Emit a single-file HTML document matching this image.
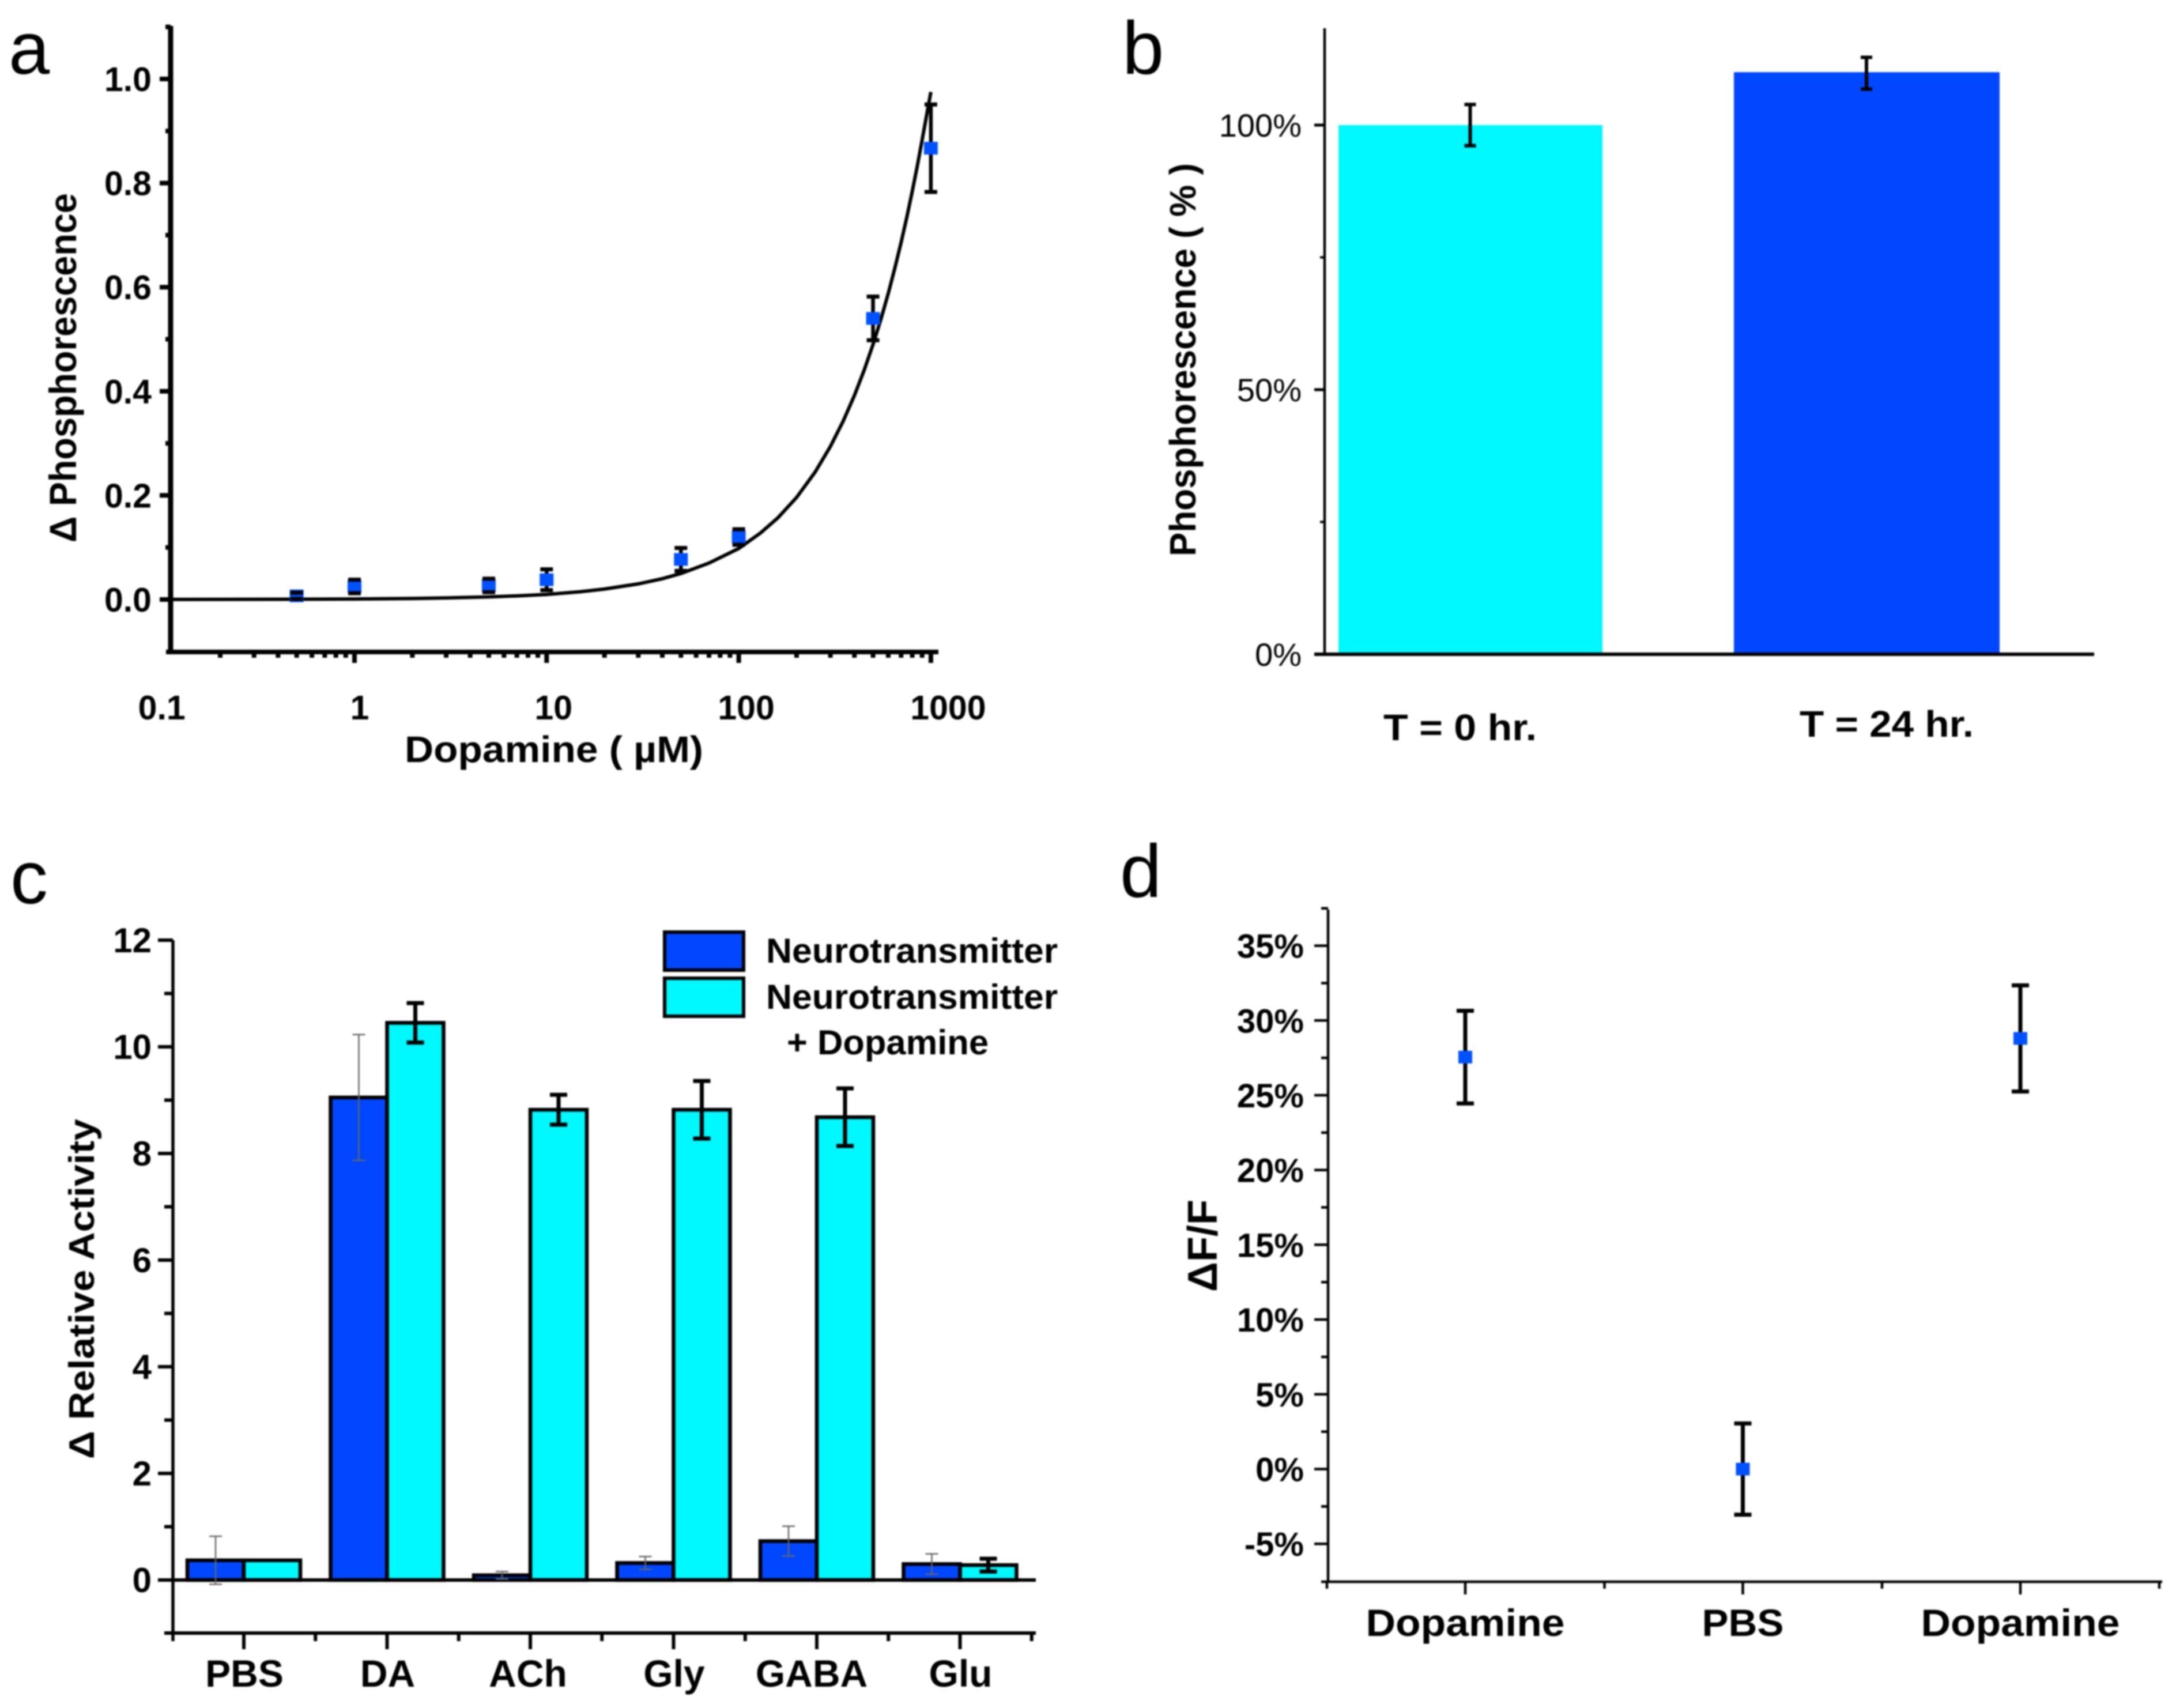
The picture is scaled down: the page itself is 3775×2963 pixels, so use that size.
<!DOCTYPE html>
<html lang="en">
<head>
<meta charset="utf-8">
<title>Dopamine sensor phosphorescence charts</title>
<style>
html,body{margin:0;padding:0;background:#fff;width:3775px;height:2963px;overflow:hidden}
svg{display:block;filter:blur(1.4px)}
text{font-family:"Liberation Sans","DejaVu Sans",sans-serif;fill:#000}
</style>
</head>
<body>
<svg id="figure" xmlns="http://www.w3.org/2000/svg" width="3775" height="2963" viewBox="0 0 3775 2963"></svg>
<script>
/* Panel a data */
const doseTicksA = [0.1, 1, 10, 100, 1000];
const doseTickLabelsA = ['0.1', '1', '10', '100', '1000'];
const responseTicksA = [0, 0.2, 0.4, 0.6, 0.8, 1.0];
const responseTickLabelsA = ['0.0', '0.2', '0.4', '0.6', '0.8', '1.0'];
const doseA = [0.5, 1, 5, 10, 50, 100, 500, 1000];
const responseA = [0.007, 0.025, 0.027, 0.038, 0.077, 0.12, 0.54, 0.867];
const errorA = [0.006, 0.013, 0.013, 0.02, 0.022, 0.015, 0.042, 0.084];
const curveDoseA = [0.11, 0.2, 0.5, 1, 2, 3, 5, 7, 10, 15, 20, 30, 40, 50, 70, 100, 130, 160, 200, 250, 300, 350, 400, 450, 500, 550, 600, 650, 700, 750, 800, 850, 900, 950, 1000];
const curveResponseA = [0.0001, 0.0002, 0.0005, 0.001, 0.002, 0.003, 0.005, 0.007, 0.0098, 0.015, 0.02, 0.03, 0.04, 0.05, 0.07, 0.098, 0.128, 0.157, 0.196, 0.245, 0.294, 0.343, 0.392, 0.441, 0.49, 0.539, 0.588, 0.637, 0.686, 0.735, 0.784, 0.833, 0.882, 0.93, 0.975];

/* Panel b data */
const categoriesB = ['T = 0 hr.', 'T = 24 hr.'];
const valuesB = [100, 110];
const errorsB = [3.9, 3];
const errorCentersB = [100, 109.8];
const percentTicksB = [0, 50, 100];
const percentTickLabelsB = ['0%', '50%', '100%'];

/* Panel c data */
const categoriesC = ['PBS', 'DA', 'ACh', 'Gly', 'GABA', 'Glu'];
const neurotransmitterC = [0.37, 9.05, 0.09, 0.32, 0.73, 0.3];
const neurotransmitterErrC = [0.45, 1.18, 0.07, 0.12, 0.28, 0.19];
const withDopamineC = [0.37, 10.45, 8.82, 8.82, 8.68, 0.28];
const withDopamineErrC = [0, 0.37, 0.28, 0.54, 0.54, 0.12];
const activityTicksC = [0, 2, 4, 6, 8, 10, 12];
const activityTickLabelsC = ['0', '2', '4', '6', '8', '10', '12'];

/* Panel d data */
const categoriesD = ['Dopamine', 'PBS', 'Dopamine'];
const valuesD = [27.55, 0, 28.8];
const errorsD = [3.1, 3.05, 3.55];
const percentTicksD = [-5, 0, 5, 10, 15, 20, 25, 30, 35];
const percentTickLabelsD = ['-5%', '0%', '5%', '10%', '15%', '20%', '25%', '30%', '35%'];

const NS = 'http://www.w3.org/2000/svg';
const root = document.getElementById('figure');
const BLUE = '#0047ff';
const CYAN = '#00f8ff';
const MARK = '#0052ff';

function group(parent, name) {
  const el = document.createElementNS(NS, 'g');
  
  
  parent.appendChild(el);
  return el;
}
function line(parent, name, x1, y1, x2, y2, w, color) {
  const el = document.createElementNS(NS, 'line');
  
  
  el.setAttribute('x1', x1);
  el.setAttribute('y1', y1);
  el.setAttribute('x2', x2);
  el.setAttribute('y2', y2);
  el.setAttribute('stroke', color || '#000');
  el.setAttribute('stroke-width', w);
  parent.appendChild(el);
  return el;
}
function box(parent, name, x, y, w, h, fill, sw) {
  const el = document.createElementNS(NS, 'rect');
  
  
  el.setAttribute('x', x);
  el.setAttribute('y', y);
  el.setAttribute('width', w);
  el.setAttribute('height', h);
  el.setAttribute('fill', fill);
  if (sw) {
    el.setAttribute('stroke', '#000');
    el.setAttribute('stroke-width', sw);
  }
  parent.appendChild(el);
  return el;
}
function label(parent, name, str, x, y, size, weight, anchor, len, rotate) {
  const el = document.createElementNS(NS, 'text');
  
  
  el.setAttribute('x', x);
  el.setAttribute('y', y);
  el.setAttribute('font-size', size);
  el.setAttribute('font-weight', weight);
  el.setAttribute('text-anchor', anchor);
  if (len) {
    el.setAttribute('textLength', len);
    el.setAttribute('lengthAdjust', 'spacingAndGlyphs');
  }
  if (rotate) {
    el.setAttribute('transform', 'rotate(-90 ' + x + ' ' + y + ')');
  }
  el.textContent = str;
  parent.appendChild(el);
  return el;
}
function errorBar(parent, name, x, yTop, yBottom, capW, w, color) {
  const g = group(parent, name);
  line(g, 'error-stem', x, yTop, x, yBottom, w, color);
  line(g, 'error-cap-top', x - capW / 2, yTop, x + capW / 2, yTop, w, color);
  line(g, 'error-cap-bottom', x - capW / 2, yBottom, x + capW / 2, yBottom, w, color);
}

/* ---------- Panel a ---------- */
(function () {
  const p = group(root, 'panel-a');
  const xS = v => 615 + 333.3 * Math.log10(v);
  const yS = v => 1040 - 903 * v;
  label(p, 'panel-label-a', 'a', 15, 128, 128, 'normal', 'start');
  const axisX = 296, axisY = 1131;
  line(p, 'y-axis', axisX, 45, axisX, axisY + 4, 9);
  line(p, 'x-axis', 288, axisY, 1628, axisY, 8);
  for (let i = 0; i < responseTicksA.length; i++) {
    const y = yS(responseTicksA[i]);
    line(p, 'y-major-tick', 277, y, axisX, y, 8);
    label(p, 'y-tick-label', responseTickLabelsA[i], 263, y + 21, 59, 'bold', 'end', 82);
    if (i < responseTicksA.length - 1) {
      const m = yS((responseTicksA[i] + responseTicksA[i + 1]) / 2);
      line(p, 'y-minor-tick', 287, m, axisX, m, 8);
    }
  }
  line(p, 'y-minor-tick', 287, yS(1.1), axisX, yS(1.1), 8);
  const nudge = [-1, 9, 12, 13, 30];
  for (let i = 0; i < doseTicksA.length; i++) {
    const v = doseTicksA[i];
    if (v > 0.1) line(p, 'x-major-tick', xS(v), axisY, xS(v), axisY + 19, 8);
    label(p, 'x-tick-label', doseTickLabelsA[i], xS(v) + nudge[i], 1248, 59, 'bold', 'middle');
    if (v < 1000) {
      for (let k = 2; k < 10; k++) {
        const mx = xS(v * k);
        if (mx > axisX) line(p, 'x-minor-tick', mx, axisY, mx, axisY + 10, 8);
      }
    }
  }
  label(p, 'x-axis-title', 'Dopamine ( µM)', 961, 1322, 64, 'bold', 'middle', 518);
  label(p, 'y-axis-title', 'Δ Phosphorescence', 132, 638, 66, 'bold', 'middle', 606, true);

  const series = group(p, 'dopamine-response-series');
  const fit = document.createElementNS(NS, 'polyline');
  
  
  fit.setAttribute('points', curveDoseA.map((d, i) => xS(d).toFixed(1) + ',' + yS(curveResponseA[i]).toFixed(1)).join(' '));
  fit.setAttribute('fill', 'none');
  fit.setAttribute('stroke', '#000');
  fit.setAttribute('stroke-width', 6);
  series.appendChild(fit);
  for (let i = 0; i < doseA.length; i++) {
    const x = xS(doseA[i]);
    const top = yS(responseA[i] + errorA[i]);
    const bottom = yS(responseA[i] - errorA[i]);
    line(series, 'error-stem-a', x, top, x, bottom, 6.5);
    box(series, 'data-point-a', x - 12, yS(responseA[i]) - 11, 24, 22, MARK);
    line(series, 'error-cap-a', x - 11, top, x + 11, top, 7);
    line(series, 'error-cap-a', x - 11, bottom, x + 11, bottom, 7);
  }
})();

/* ---------- Panel b ---------- */
(function () {
  const p = group(root, 'panel-b');
  const yS = v => 1135 - 9.18 * v;
  const barLeft = [2322, 3008];
  const barWidth = [458, 461];
  const barFill = [CYAN, BLUE];
  const labelX = [2533, 3273];
  const labelY = [1284, 1278];
  const labelLen = [266, 302];
  label(p, 'panel-label-b', 'b', 1947, 128, 130, 'normal', 'start');
  for (let i = 0; i < categoriesB.length; i++) {
    box(p, 'bar-b', barLeft[i], yS(valuesB[i]), barWidth[i], yS(0) - yS(valuesB[i]), barFill[i]);
    errorBar(p, 'error-bar-b', barLeft[i] + barWidth[i] / 2 - 0.5, yS(errorCentersB[i] + errorsB[i]), yS(errorCentersB[i] - errorsB[i]), 20, 6, '#000');
    label(p, 'category-label-b', categoriesB[i], labelX[i], labelY[i], 64, 'bold', 'middle', labelLen[i]);
  }
  line(p, 'y-axis', 2298, 49, 2298, 1138, 4.5);
  line(p, 'x-axis', 2280, 1135, 3633, 1135, 6);
  for (let i = 0; i < percentTicksB.length; i++) {
    const y = yS(percentTicksB[i]);
    line(p, 'y-major-tick', 2280, y, 2298, y, 5);
    label(p, 'y-tick-label', percentTickLabelsB[i], 2258, y + 20, 56, 'normal', 'end');
  }
  line(p, 'y-minor-tick', 2290, yS(75), 2298, yS(75), 4);
  line(p, 'y-minor-tick', 2290, yS(25), 2298, yS(25), 4);
  label(p, 'y-axis-title', 'Phosphorescence ( % )', 2074, 624, 64, 'bold', 'middle', 682, true);
})();

/* ---------- Panel c ---------- */
(function () {
  const p = group(root, 'panel-c');
  const yS = v => 2741 - 92.5 * v;
  const catX = i => 423 + 248.5 * i;
  const bw = 98;
  const axisX = 300, axisY = 2833;
  label(p, 'panel-label-c', 'c', 18, 1567, 130, 'normal', 'start');
  for (let i = 0; i < categoriesC.length; i++) {
    const cx = catX(i);
    box(p, 'bar-neurotransmitter', cx - bw, yS(neurotransmitterC[i]), bw, yS(0) - yS(neurotransmitterC[i]), BLUE, 6.5);
    box(p, 'bar-neurotransmitter-plus-dopamine', cx, yS(withDopamineC[i]), bw, yS(0) - yS(withDopamineC[i]), CYAN, 6.5);
  }
  line(p, 'y-axis', axisX, 1631, axisX, axisY + 14, 5.5);
  line(p, 'zero-line', 274, 2741, 1797, 2741, 6);
  line(p, 'x-axis', 285, axisY, 1797, axisY, 6);
  for (let i = 0; i < categoriesC.length; i++) {
    const cx = catX(i);
    const c1 = neurotransmitterC[i], e1 = neurotransmitterErrC[i];
    errorBar(p, 'error-bar-neurotransmitter', cx - bw / 2, yS(c1 + e1), yS(c1 - e1), 22, 2.5, '#666');
    const c2 = withDopamineC[i], e2 = withDopamineErrC[i];
    if (e2 > 0) errorBar(p, 'error-bar-plus-dopamine', cx + bw / 2, yS(c2 + e2), yS(c2 - e2), 30, 7, '#000');
    line(p, 'x-major-tick', cx, axisY, cx, axisY + 28, 6);
    if (i > 0) line(p, 'x-minor-tick', cx - 124.25, axisY, cx - 124.25, axisY + 14, 6);
    const nudge = i === 4 ? -9 : i === 2 ? -4 : 1;
    label(p, 'category-label-c', categoriesC[i], cx + nudge, 2926, 66, 'bold', 'middle');
  }
  line(p, 'x-minor-tick', catX(5) + 124.25, axisY, catX(5) + 124.25, axisY + 14, 6);
  for (let i = 0; i < activityTicksC.length; i++) {
    const y = yS(activityTicksC[i]);
    line(p, 'y-major-tick', 274, y, axisX, y, 6);
    label(p, 'y-tick-label', activityTickLabelsC[i], 263, y + 21, 60, 'bold', 'end');
    if (i < activityTicksC.length - 1) {
      line(p, 'y-minor-tick', 285, yS(activityTicksC[i] + 1), axisX, yS(activityTicksC[i] + 1), 6);
    }
  }
  label(p, 'y-axis-title', 'Δ Relative Activity', 163, 2236, 62, 'bold', 'middle', 590, true);

  const lg = group(p, 'legend');
  box(lg, 'legend-swatch-neurotransmitter', 1153, 1617, 137, 66, BLUE, 6);
  box(lg, 'legend-swatch-plus-dopamine', 1153, 1697, 137, 66, CYAN, 6);
  label(lg, 'legend-label-neurotransmitter', 'Neurotransmitter', 1329, 1670, 60, 'bold', 'start', 506);
  label(lg, 'legend-label-plus-dopamine', 'Neurotransmitter', 1329, 1750, 60, 'bold', 'start', 506);
  label(lg, 'legend-label-plus-dopamine-line-2', '+ Dopamine', 1365, 1829, 60, 'bold', 'start', 350);
})();

/* ---------- Panel d ---------- */
(function () {
  const p = group(root, 'panel-d');
  const yS = v => 2548.5 - 25.94 * v;
  const catX = i => 2542 + 481.5 * i;
  label(p, 'panel-label-d', 'd', 1943, 1556, 130, 'normal', 'start');
  line(p, 'y-axis', 2304, 1578, 2304, 2746, 4.5);
  line(p, 'x-axis', 2292, 2744, 3751, 2744, 4.5);
  for (let i = 0; i < percentTicksD.length; i++) {
    const v = percentTicksD[i];
    line(p, 'y-major-tick', 2280, yS(v), 2304, yS(v), 4.5);
    label(p, 'y-tick-label', percentTickLabelsD[i], 2262, yS(v) + 21, 58, 'bold', 'end');
    line(p, 'y-minor-tick', 2292, yS(v + 2.5), 2304, yS(v + 2.5), 4.5);
  }
  line(p, 'y-minor-tick', 2292, yS(-2.5), 2304, yS(-2.5), 4.5);
  for (let i = 0; i < categoriesD.length; i++) {
    const cx = catX(i);
    line(p, 'x-major-tick', cx, 2744, cx, 2766, 4.5);
    line(p, 'x-minor-tick', cx - 240, 2744, cx - 240, 2756, 4.5);
    label(p, 'category-label-d', categoriesD[i], cx, 2838, 66, 'bold', 'middle', i === 1 ? 142 : 345);
    errorBar(p, 'error-bar-d', cx, yS(valuesD[i] + errorsD[i]), yS(valuesD[i] - errorsD[i]), 30, 7, '#000');
    box(p, 'data-point-d', cx - 12, yS(valuesD[i]) - 11, 24, 22, MARK);
  }
  line(p, 'x-minor-tick', catX(2) + 241, 2744, catX(2) + 241, 2756, 4.5);
  label(p, 'y-axis-title', 'ΔF/F', 2111, 2161, 72, 'bold', 'middle', 160, true);
})();
</script>
</body>
</html>
